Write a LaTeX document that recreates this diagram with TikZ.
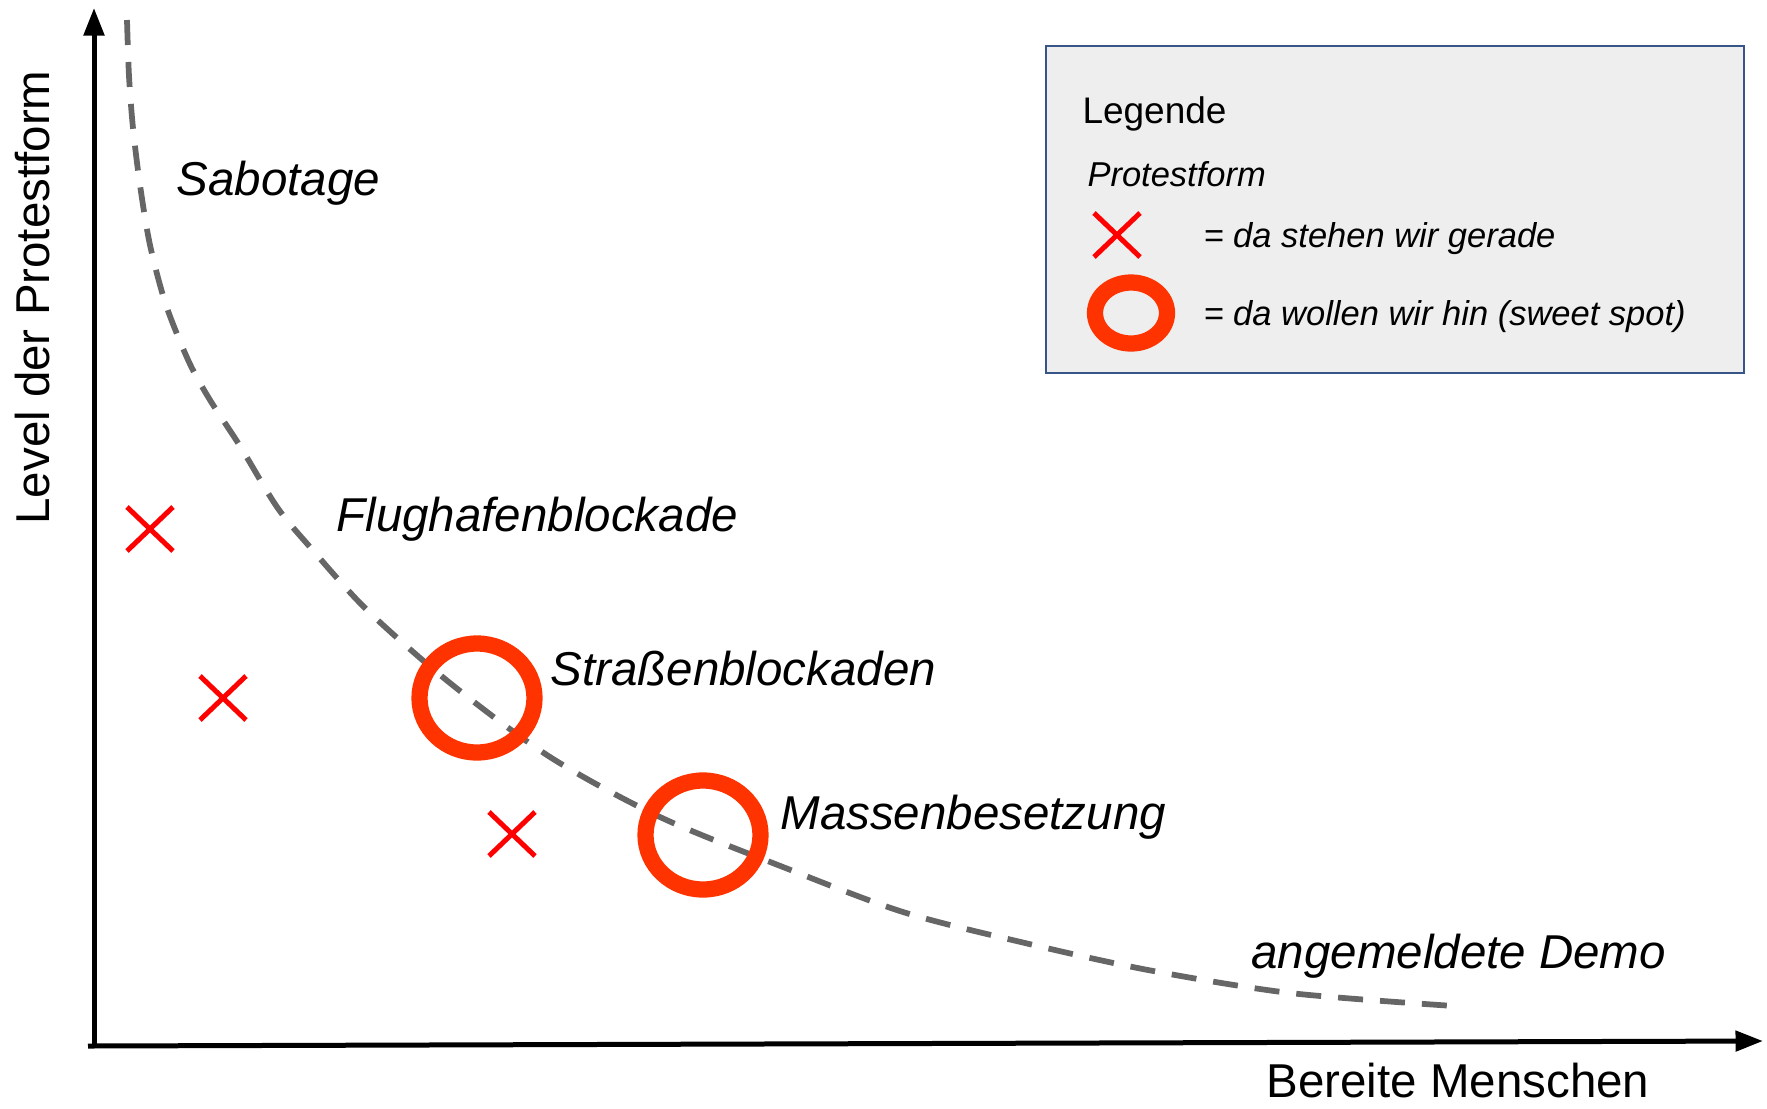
\documentclass[tikz,border=0pt]{standalone}
\usepackage{fontspec}
\setmainfont{Liberation Sans}
\usetikzlibrary{arrows.meta}
\definecolor{kurvengrau}{HTML}{666666}
\definecolor{ringrot}{HTML}{FF3300}
\definecolor{kastenrand}{RGB}{55,85,135}
\definecolor{kastengrau}{HTML}{EEEEEE}
\def\kreuz{++(-23,-22) -- ++(46,44) ++(0,-44) -- ++(-46,44)}
\def\dkreuz{\draw[red,line width=2pt]}
\def\dring{\draw[ringrot,line width=6.5pt]}

\begin{document}
\begin{tikzpicture}[x=0.4pt,y=-0.4pt,
    beschr/.style={anchor=base west,inner sep=0pt,font=\fontsize{19}{23}\selectfont\itshape},
    achse/.style={line width=2pt,-{Triangle[length=11pt,width=8pt]}},
    legtext/.style={anchor=base west,inner sep=0pt,font=\fontsize{13.8}{17}\selectfont\itshape}]
    \useasboundingbox (0,0) rectangle (1767,1108);
    % Achsen
    \coordinate (ursprung) at (94,1047);
    \coordinate (yspitze) at (94,8);
    \coordinate (xanfang) at (88,1046);
    \coordinate (xspitze) at (1763,1041);
    \draw[achse] (ursprung) -- (yspitze);
    \draw[achse] (xanfang) -- (xspitze);
    \node[rotate=90,anchor=base west,inner sep=0pt,font=\fontsize{19}{23}\selectfont] (ylabel) at (50,525) {Level der Protestform};
    \node[anchor=base west,inner sep=0pt,font=\fontsize{19}{23}\selectfont] (xlabel) at (1266,1097) {Bereite Menschen};
    % Kurve
    \draw[kurvengrau,line width=2.3pt,dash pattern=on 10pt off 6.8pt] plot[smooth] coordinates
        {(127,20) (129,76) (133,128) (140,185) (150,245) (166,305) (189,362) (210,400)
         (240,446) (277,507) (310,547) (367,610) (450,683) (550,757) (660,817)
         (783,867) (903,912) (1025,943) (1148,970) (1290,993) (1454,1006)};
    % Protestformen
    \node[beschr] (sabotage) at (176,195) {Sabotage};
    \node[beschr] (flughafen) at (336,531) {Flughafenblockade};
    \node[beschr] (strasse) at (550,685) {Straßenblockaden};
    \node[beschr] (masse) at (780,829) {Massenbesetzung};
    \node[beschr] (demo) at (1251,968) {angemeldete Demo};
    \dkreuz (150,529) \kreuz;
    \dkreuz (223,698) \kreuz;
    \dkreuz (512,834) \kreuz;
    \dring (477,698) ellipse[x radius=23pt,y radius=21.8pt];
    \dring (703,835) ellipse[x radius=23pt,y radius=21.8pt];
    % Legende
    \draw[kastenrand,fill=kastengrau,line width=0.8pt] (1046,46) rectangle (1744,373);
    \node[anchor=base west,inner sep=0pt,font=\fontsize{14.8}{18}\selectfont] (legende) at (1082,123) {Legende};
    \node[legtext] (protestform) at (1087,186) {Protestform};
    \dkreuz (1117,235) \kreuz;
    \node[legtext] (stehen) at (1203,247) {= da stehen wir gerade};
    \dring (1131,313) ellipse[x radius=14.4pt,y radius=12.2pt];
    \node[legtext] (wollen) at (1203,325) {= da wollen wir hin (sweet spot)};
\end{tikzpicture}
\end{document}
